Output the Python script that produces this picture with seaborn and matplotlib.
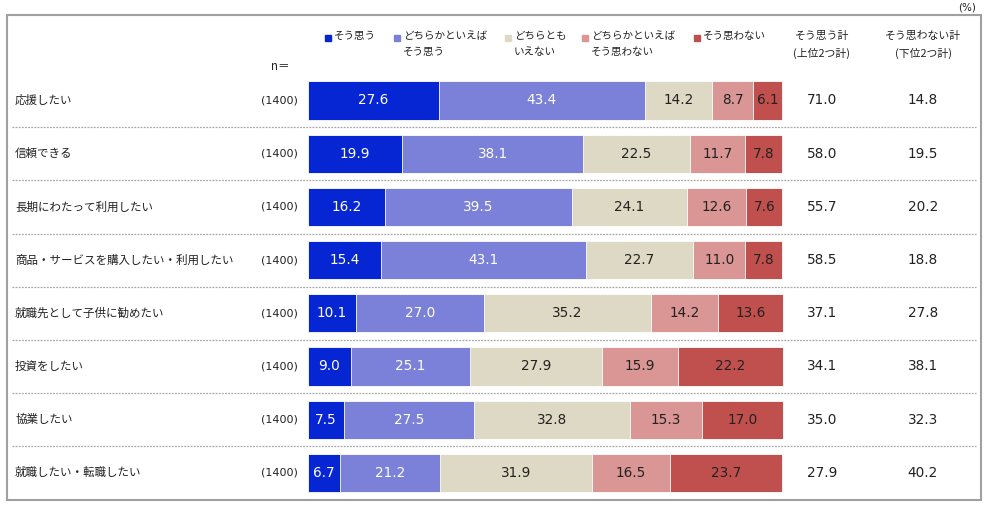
import matplotlib
matplotlib.use("Agg")
import matplotlib.pyplot as plt
import matplotlib.transforms as mtransforms
from matplotlib.patches import Rectangle
import numpy as np
import pandas as pd
import seaborn as sns

# ---- data ----
items = [
    "応援したい",
    "信頼できる",
    "長期にわたって利用したい",
    "商品・サービスを購入したい・利用したい",
    "就職先として子供に勧めたい",
    "投資をしたい",
    "協業したい",
    "就職したい・転職したい",
]
n_labels = ["(1400)"] * 8
agree = [27.6, 19.9, 16.2, 15.4, 10.1, 9.0, 7.5, 6.7]
rather_agree = [43.4, 38.1, 39.5, 43.1, 27.0, 25.1, 27.5, 21.2]
neutral = [14.2, 22.5, 24.1, 22.7, 35.2, 27.9, 32.8, 31.9]
rather_disagree = [8.7, 11.7, 12.6, 11.0, 14.2, 15.9, 15.3, 16.5]
disagree = [6.1, 7.8, 7.6, 7.8, 13.6, 22.2, 17.0, 23.7]
top2_total = [71.0, 58.0, 55.7, 58.5, 37.1, 34.1, 35.0, 27.9]
bottom2_total = [14.8, 19.5, 20.2, 18.8, 27.8, 38.1, 32.3, 40.2]

series_names = ["そう思う", "どちらかといえば\nそう思う", "どちらとも\nいえない",
                "どちらかといえば\nそう思わない", "そう思わない"]
colors = ["#0626d4", "#7b80d8", "#ddd9c4", "#da9694", "#c0504d"]
text_colors = ["white", "white", "#222222", "#222222", "#222222"]

sns.set_theme(style="white")
plt.rcParams["font.family"] = ["Noto Sans CJK JP", "DejaVu Sans"]
num_font = ["DejaVu Sans"]

df = pd.DataFrame({
    "item": items,
    "s0": agree, "s1": rather_agree, "s2": neutral,
    "s3": rather_disagree, "s4": disagree,
})
seg_cols = ["s0", "s1", "s2", "s3", "s4"]
cum = df[seg_cols].cumsum(axis=1)

W, H = 987, 507
fig = plt.figure(figsize=(W / 100, H / 100), dpi=100)

# decoration axes in pixel units
deco = fig.add_axes([0, 0, 1, 1])
deco.set_xlim(0, W)
deco.set_ylim(H, 0)
deco.set_axis_off()

# main axes: x in percent, y in row index
ax = fig.add_axes([0, 0, 1, 1])
ax.patch.set_alpha(0)
for k in range(4, -1, -1):
    sns.barplot(x=cum[seg_cols[k]], y=df["item"], order=items, orient="h",
                color=colors[k], width=0.72, edgecolor="white", linewidth=0.6,
                saturation=1, ax=ax)

px_per_pct = 4.744
row_pitch = 53.2
ax.set_xlim(-308 / px_per_pct, (W - 308) / px_per_pct)
ax.set_ylim((H - 100.5) / row_pitch, -100.5 / row_pitch)
ax.set_axis_off()

# segment labels
for i in range(len(items)):
    left = 0.0
    for k, col in enumerate(seg_cols):
        v = df.loc[i, col]
        ax.text(left + v / 2, i, f"{v:.1f}", ha="center", va="center",
                color=text_colors[k], fontsize=9.8, family=num_font)
        left += v

# row texts with x in pixels, y in rows
tr = mtransforms.blended_transform_factory(deco.transData, ax.transData)
for i, name in enumerate(items):
    ax.text(15, i, name, transform=tr, ha="left", va="center", fontsize=8.3,
            color="#222222")
    ax.text(298, i, n_labels[i], transform=tr, ha="right", va="center",
            fontsize=8, color="#222222", family=num_font)
    ax.text(822, i, f"{top2_total[i]:.1f}", transform=tr, ha="center",
            va="center", fontsize=9.8, color="#222222", family=num_font)
    ax.text(923, i, f"{bottom2_total[i]:.1f}", transform=tr, ha="center",
            va="center", fontsize=9.8, color="#222222", family=num_font)
    if i < len(items) - 1:
        ax.plot([12, 976], [i + 0.5, i + 0.5], transform=tr, color="#a8a8a8",
                linestyle=(0, (1.5, 1)), linewidth=0.9)

# frame
deco.add_patch(Rectangle((7, 15), 974, 485, fill=False, edgecolor="#a0a0a0",
                         linewidth=1.5))
deco.text(976, 8, "(%)", ha="right", va="center", fontsize=7.5, color="#222222",
          family=num_font)
deco.text(280, 67, "n＝", ha="center", va="center", fontsize=8.3, color="#222222")

# legend
marker_x = [328, 397, 508, 585, 697]
for k in range(5):
    deco.add_patch(Rectangle((marker_x[k] - 3, 35), 6, 6, color=colors[k]))
    deco.text(marker_x[k] + 6, 31, series_names[k], ha="left", va="top",
              fontsize=7.6, color="#222222", linespacing=1.75)

deco.text(822, 31, "そう思う計\n(上位2つ計)", ha="center", va="top",
          fontsize=7.8, color="#222222", linespacing=1.75)
deco.text(923, 31, "そう思わない計\n(下位2つ計)", ha="center", va="top",
          fontsize=7.8, color="#222222", linespacing=1.75)

fig.savefig("out.png", dpi=100)
